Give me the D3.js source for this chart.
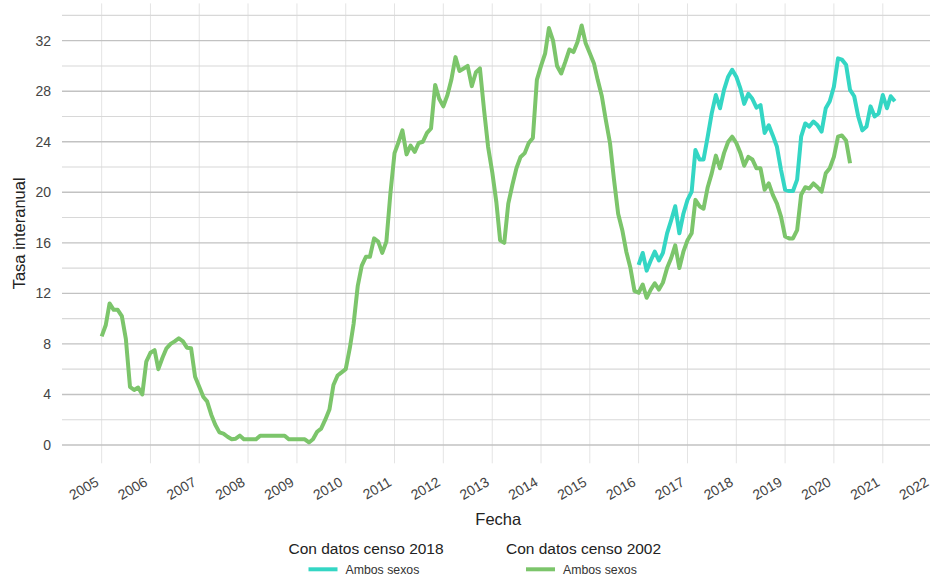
<!DOCTYPE html>
<html lang="es">
<head>
  <meta charset="UTF-8">
  <title>Tasa interanual</title>
  <style>
    body { margin: 0; background: #fff; }
    text { font-family: "Liberation Sans", Arial, sans-serif; }
  </style>
</head>
<body>
<div id="chart"></div>
<script src="https://d3js.org/d3.v7.min.js"></script>
<script type="text/javascript">
  // monthly series
  const startCenso2002 = new Date(2005, 0, 1);
  const startCenso2018 = new Date(2016, 0, 1);

  const censo2002 = [
    8.6, 9.5, 11.2, 10.7, 10.7, 10.2, 8.4, 4.6, 4.35, 4.55, 4.0, 6.6,
    7.3, 7.5, 6.0, 6.9, 7.65, 8.0, 8.2, 8.45, 8.2, 7.7, 7.65, 5.4,
    4.6, 3.8, 3.45, 2.4, 1.6, 1.0, 0.9, 0.65, 0.45, 0.5, 0.74, 0.45,
    0.45, 0.45, 0.45, 0.74, 0.74, 0.74, 0.74, 0.74, 0.74, 0.74, 0.45, 0.45,
    0.45, 0.45, 0.45, 0.2, 0.45, 1.05, 1.3, 2.0, 2.8, 4.75, 5.5, 5.75,
    6.0, 7.7, 9.6, 12.6, 14.2, 14.9, 14.9, 16.35, 16.1, 15.2, 16.1, 19.9,
    23.1, 24.0, 24.9, 23.0, 23.7, 23.2, 23.9, 24.0, 24.7, 25.05, 28.5, 27.4,
    26.8, 27.7, 28.9, 30.7, 29.6, 29.8, 30.0, 28.4, 29.5, 29.8, 26.5, 23.6,
    21.6, 19.2, 16.2, 16.0, 19.1, 20.6, 21.9, 22.8, 23.1, 23.9, 24.3, 28.9,
    30.0, 31.0, 33.0, 32.0, 30.0, 29.4, 30.3, 31.3, 31.1, 31.9, 33.2, 31.8,
    31.0, 30.2, 28.9, 27.6, 25.7, 23.9, 21.0, 18.3, 17.0, 15.3, 14.0, 12.2,
    12.05, 12.7, 11.65, 12.3, 12.8, 12.3, 12.85, 14.0, 14.8, 15.8, 14.0, 15.3,
    16.2, 16.75, 19.4, 18.9, 18.7, 20.4, 21.5, 22.9, 21.9, 23.1, 24.0, 24.4,
    23.9, 23.1, 22.1, 22.8, 22.6, 21.9, 21.9, 20.2, 20.7, 19.8, 19.1, 18.1,
    16.5, 16.35, 16.35, 17.0, 19.8, 20.4, 20.3, 20.7, 20.4, 20.05, 21.5, 21.9,
    22.8, 24.4, 24.5, 24.1, 22.3
  ];

  const censo2018 = [
    14.25, 15.2, 13.8, 14.6, 15.3, 14.6, 15.2, 16.75, 17.8, 18.9, 16.75, 18.3,
    19.4, 20.05, 23.35, 22.6, 22.6, 24.4, 26.25, 27.7, 26.65, 28.1, 29.15, 29.7,
    29.15, 28.2, 27.0, 27.8, 27.4, 26.7, 26.9, 24.7, 25.3, 24.5, 23.6, 21.8,
    20.2, 20.1, 20.1, 21.0, 24.4, 25.45, 25.2, 25.6, 25.3, 24.8, 26.65, 27.2,
    28.35, 30.6, 30.5, 30.1, 28.1, 27.6, 26.0, 24.9, 25.2, 26.8, 26.0, 26.25,
    27.7, 26.65, 27.6, 27.2
  ];

  const yMajorTicks = [0, 4, 8, 12, 16, 20, 24, 28, 32];
  const yMinorTicks = [2, 6, 10, 14, 18, 22, 26, 30, 34];
  const legendTitles = ["Con datos censo 2018", "Con datos censo 2002"];
  const legendLabel = "Ambos sexos";
  const colors = ["#34d6c4", "#7cc56b"];

  const width = 930, height = 578;
  const panel = { left: 62, right: 934.5, top: 3.4, bottom: 463.3 };

  const series = [
    censo2018.map((v, i) => ({ date: d3.timeMonth.offset(startCenso2018, i), value: v })),
    censo2002.map((v, i) => ({ date: d3.timeMonth.offset(startCenso2002, i), value: v }))
  ];

  // ggplot style 5% expansion
  const dates = series.flat().map(d => d.date);
  const x0 = d3.min(dates), x1 = d3.max(dates);
  const pad = (x1 - x0) * 0.05;
  const x = d3.scaleTime()
    .domain([new Date(+x0 - pad), new Date(+x1 + pad)])
    .range([panel.left, panel.right]);

  const y = d3.scaleLinear()
    .domain([-1.45, 34.95])
    .range([panel.bottom, panel.top]);

  const svg = d3.select("#chart").append("svg")
    .attr("width", width)
    .attr("height", height)
    .style("background", "#fff");

  const years = x.ticks(d3.timeYear.every(1));

  // grid
  svg.append("g").selectAll("line").data(years).join("line")
    .attr("x1", d => x(d)).attr("x2", d => x(d))
    .attr("y1", panel.top).attr("y2", panel.bottom)
    .style("stroke", "#e4e4e4").style("stroke-width", 1);

  svg.append("g").selectAll("line").data(yMinorTicks).join("line")
    .attr("x1", panel.left).attr("x2", panel.right)
    .attr("y1", d => y(d)).attr("y2", d => y(d))
    .style("stroke", "#d8d8d8").style("stroke-width", 1.1);

  svg.append("g").selectAll("line").data(yMajorTicks).join("line")
    .attr("x1", panel.left).attr("x2", panel.right)
    .attr("y1", d => y(d)).attr("y2", d => y(d))
    .style("stroke", "#c2c2c2").style("stroke-width", 1.4);

  // lines
  const line = d3.line()
    .x(d => x(d.date))
    .y(d => y(d.value));

  series.forEach((s, i) => {
    svg.append("path")
      .datum(s)
      .attr("d", line)
      .style("fill", "none")
      .style("stroke", colors[i])
      .style("stroke-width", 4)
      .style("stroke-linejoin", "round");
  });

  // y axis labels
  svg.append("g").selectAll("text").data(yMajorTicks).join("text")
    .attr("x", 51)
    .attr("y", d => y(d))
    .attr("dy", "0.36em")
    .attr("text-anchor", "end")
    .style("font-size", "14px")
    .style("fill", "#444")
    .text(d => d);

  // x axis labels, rotated
  const fmt = d3.timeFormat("%Y");
  svg.append("g").selectAll("text").data(years).join("text")
    .attr("transform", d => "translate(" + (x(d) - 7) + ",476) rotate(-30)")
    .attr("dy", "0.72em")
    .attr("text-anchor", "end")
    .style("font-size", "14px")
    .style("fill", "#444")
    .text(d => fmt(d));

  // axis titles
  svg.append("text")
    .attr("x", (panel.left + panel.right) / 2)
    .attr("y", 525)
    .attr("text-anchor", "middle")
    .style("font-size", "16.5px")
    .style("fill", "#222")
    .text("Fecha");

  svg.append("text")
    .attr("transform", "translate(25," + (panel.top + panel.bottom) / 2 + ") rotate(-90)")
    .attr("text-anchor", "middle")
    .style("font-size", "16.5px")
    .style("fill", "#222")
    .text("Tasa interanual");

  // legend
  const legendX = [288.5, 506];
  legendTitles.forEach((t, i) => {
    const g = svg.append("g").attr("transform", "translate(" + legendX[i] + ",0)");
    g.append("text")
      .attr("x", 0).attr("y", 554)
      .style("font-size", "15.5px")
      .style("fill", "#222")
      .text(t);
    g.append("line")
      .attr("x1", 20).attr("x2", 49)
      .attr("y1", 569.3).attr("y2", 569.3)
      .style("stroke", colors[i])
      .style("stroke-width", 4);
    g.append("text")
      .attr("x", 57).attr("y", 573.5)
      .style("font-size", "12.3px")
      .style("fill", "#333")
      .text(legendLabel);
  });
</script>
</body>
</html>
